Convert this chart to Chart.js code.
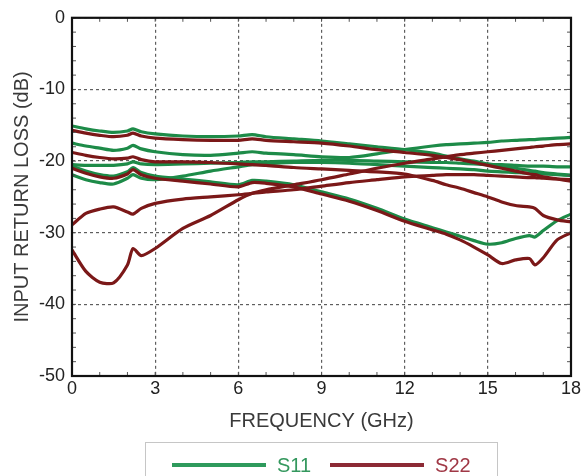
<!DOCTYPE html>
<html>
<head>
<meta charset="utf-8">
<script src="https://cdn.jsdelivr.net/npm/chart.js@4.4.0/dist/chart.umd.min.js"></script>
<style>
  html, body { margin: 0; padding: 0; background: #fff; overflow: hidden; }
  #wrap { position: relative; width: 584px; height: 476px; }
  #legend {
    position: absolute; left: 145px; top: 442px; width: 353px; height: 50px;
    border: 1.5px solid #c6c6c6; box-sizing: border-box;
    font-family: "Liberation Sans", Arial, sans-serif; font-size: 20px;
    display: flex; align-items: flex-start; padding: 10px 0 0 26px;
  }
  #legend .swatch { width: 94px; height: 4px; margin-top: 10px; }
  #legend .label { line-height: 24px; margin-left: 11px; margin-right: 19px; }
</style>
</head>
<body>
<div id="wrap">
  <canvas id="chart" width="584" height="476"></canvas>
  <div id="legend"></div>
</div>
<script>
// Frequency points (GHz) shared by every trace
const freq = [0, 0.5, 1, 1.5, 2, 2.2, 2.5, 3, 4, 5, 6, 6.5, 7, 8, 9, 10, 11, 12, 13, 13.5, 14, 14.5, 15, 15.5, 16, 16.5, 16.7, 17, 17.5, 18];

// S11 traces (dB)
const s11a = [-15.1, -15.5, -15.8, -16.0, -15.8, -15.5, -15.9, -16.2, -16.5, -16.6, -16.5, -16.3, -16.6, -16.9, -17.2, -17.6, -18.0, -18.4, -18.9, -19.3, -19.7, -20.0, -20.4, -20.7, -21.0, -21.3, -21.4, -21.6, -21.8, -22.0];
const s11b = [-17.5, -17.9, -18.2, -18.5, -18.2, -17.8, -18.3, -18.7, -19.1, -19.2, -18.9, -18.7, -18.9, -19.1, -19.4, -19.5, -19.0, -18.4, -17.9, -17.7, -17.6, -17.5, -17.4, -17.2, -17.1, -17.0, -17.0, -16.9, -16.8, -16.7];
const s11c = [-20.5, -20.6, -20.6, -20.6, -20.4, -20.1, -20.4, -20.5, -20.4, -20.3, -20.2, -20.1, -20.1, -20.0, -19.9, -19.9, -20.0, -20.1, -20.2, -20.2, -20.3, -20.4, -20.5, -20.5, -20.6, -20.7, -20.7, -20.7, -20.8, -20.8];
const s11d = [-21.9, -22.6, -23.0, -23.2, -22.4, -21.9, -22.4, -22.6, -22.1, -21.4, -20.8, -20.5, -20.4, -20.2, -20.2, -20.3, -20.5, -20.7, -20.9, -21.0, -21.1, -21.2, -21.4, -21.5, -21.6, -21.7, -21.7, -21.8, -21.9, -22.0];
const s11e = [-20.7, -21.4, -21.9, -22.1, -21.5, -20.9, -21.6, -22.1, -22.5, -22.9, -23.3, -22.7, -22.8, -23.3, -24.3, -25.3, -26.6, -28.1, -29.3, -29.9, -30.5, -31.1, -31.6, -31.4, -30.8, -30.4, -30.6, -29.7, -28.3, -27.4];

// S22 traces (dB)
const s22a = [-15.7, -16.1, -16.4, -16.6, -16.4, -16.1, -16.5, -16.8, -17.0, -17.1, -17.1, -16.9, -17.1, -17.3, -17.5, -17.9, -18.4, -18.8, -19.2, -19.5, -19.8, -20.2, -20.6, -21.0, -21.4, -21.8, -21.9, -22.2, -22.5, -22.8];
const s22b = [-18.8, -19.2, -19.5, -19.7, -19.6, -19.4, -19.8, -20.1, -20.1, -20.2, -20.4, -20.5, -20.6, -20.9, -21.1, -21.3, -21.5, -21.8, -22.7, -23.3, -23.8, -24.4, -25.0, -25.7, -26.2, -26.4, -26.6, -27.6, -28.2, -28.5];
const s22c = [-21.0, -21.7, -22.2, -22.4, -21.8, -21.2, -21.9, -22.4, -22.8, -23.2, -23.6, -23.0, -23.1, -23.6, -24.6, -25.6, -26.9, -28.4, -29.6, -30.2, -31.0, -32.0, -33.1, -34.3, -33.8, -33.6, -34.5, -33.5, -31.0, -30.0];
const s22d = [-28.9, -27.3, -26.7, -26.4, -27.1, -27.4, -26.6, -25.9, -25.3, -25.0, -24.7, -24.5, -24.3, -24.0, -23.5, -23.0, -22.6, -22.2, -22.0, -21.9, -21.9, -21.9, -22.0, -22.1, -22.2, -22.3, -22.3, -22.4, -22.5, -22.6];
const s22e = [-32.4, -35.4, -36.9, -37.0, -34.5, -32.2, -33.2, -32.2, -29.4, -27.6, -25.4, -24.5, -24.0, -23.3, -22.6, -21.8, -21.0, -20.3, -19.7, -19.4, -19.1, -18.9, -18.7, -18.5, -18.3, -18.1, -18.0, -17.9, -17.7, -17.6];

const seriesNames = ['S11', 'S22'];
const s11Traces = [s11a, s11b, s11c, s11d, s11e];
const s22Traces = [s22a, s22b, s22c, s22d, s22e];

const GREEN = '#1d8b48';
const RED = '#7b1818';

function makeSet(name, values, color, order) {
    return {
        label: name,
        data: freq.map((f, i) => ({ x: f, y: values[i] })),
        borderColor: color,
        borderWidth: 3.2,
        pointRadius: 0,
        tension: 0.25,
        fill: false,
        order: order
    };
}

const datasets = [
    ...s22Traces.map(v => makeSet(seriesNames[1], v, RED, 0)),
    ...s11Traces.map(v => makeSet(seriesNames[0], v, GREEN, 1))
];

// Plot frame and small inside ticks
const framePlugin = {
    id: 'frame',
    afterDatasetsDraw(chart) {
        const { ctx, chartArea: a, scales: { x, y } } = chart;
        ctx.save();
        ctx.strokeStyle = '#555';
        ctx.lineWidth = 1;
        for (let f = 0; f <= 18; f += 1) {
            const px = x.getPixelForValue(f);
            ctx.beginPath();
            ctx.moveTo(px, a.bottom); ctx.lineTo(px, a.bottom - 4);
            ctx.moveTo(px, a.top); ctx.lineTo(px, a.top + 4);
            ctx.stroke();
        }
        for (let d = -50; d <= 0; d += 2) {
            const py = y.getPixelForValue(d);
            ctx.beginPath();
            ctx.moveTo(a.left, py); ctx.lineTo(a.left + 4, py);
            ctx.moveTo(a.right, py); ctx.lineTo(a.right - 4, py);
            ctx.stroke();
        }
        ctx.strokeStyle = '#111';
        ctx.lineWidth = 2.2;
        ctx.strokeRect(a.left, a.top, a.right - a.left, a.bottom - a.top);
        ctx.restore();
    }
};

const tickFont = { family: '"Liberation Sans", Arial, sans-serif', size: 18 };
const titleFont = { family: '"Liberation Sans", Arial, sans-serif', size: 20 };

new Chart(document.getElementById('chart'), {
    type: 'line',
    data: { datasets },
    options: {
        responsive: false,
        animation: false,
        layout: { padding: { left: 0, right: 13, top: 15, bottom: 34 } },
        plugins: { legend: { display: false }, tooltip: { enabled: false } },
        scales: {
            x: {
                type: 'linear',
                min: 0,
                max: 18,
                ticks: { stepSize: 3, color: '#222', font: tickFont, padding: 2, maxRotation: 0 },
                grid: { color: '#5e5e5e', lineWidth: 1.2, drawTicks: false },
                border: { display: false, dash: [3, 3] },
                title: { display: true, text: 'FREQUENCY (GHz)', color: '#3a3a3a', font: titleFont, padding: { top: 0, bottom: 9 } },
                afterFit(scale) { scale.height = 66; }
            },
            y: {
                min: -50,
                max: 0,
                ticks: { stepSize: 10, color: '#222', font: tickFont, padding: 7 },
                grid: { color: '#5e5e5e', lineWidth: 1.2, drawTicks: false },
                border: { display: false, dash: [3, 3] },
                title: { display: true, text: 'INPUT RETURN LOSS (dB)', color: '#3a3a3a', font: titleFont, padding: { top: 10, bottom: 0 } },
                afterFit(scale) { scale.width = 72; }
            }
        }
    },
    plugins: [framePlugin]
});

// Boxed legend under the chart
const legendColors = [
    { line: '#2e9a5c', text: '#34985e' },
    { line: '#8c2a35', text: '#a03846' }
];
document.getElementById('legend').innerHTML = seriesNames.map((name, i) =>
    `<span class="swatch" style="background:${legendColors[i].line}"></span>` +
    `<span class="label" style="color:${legendColors[i].text}">${name}</span>`
).join('');
</script>
</body>
</html>
